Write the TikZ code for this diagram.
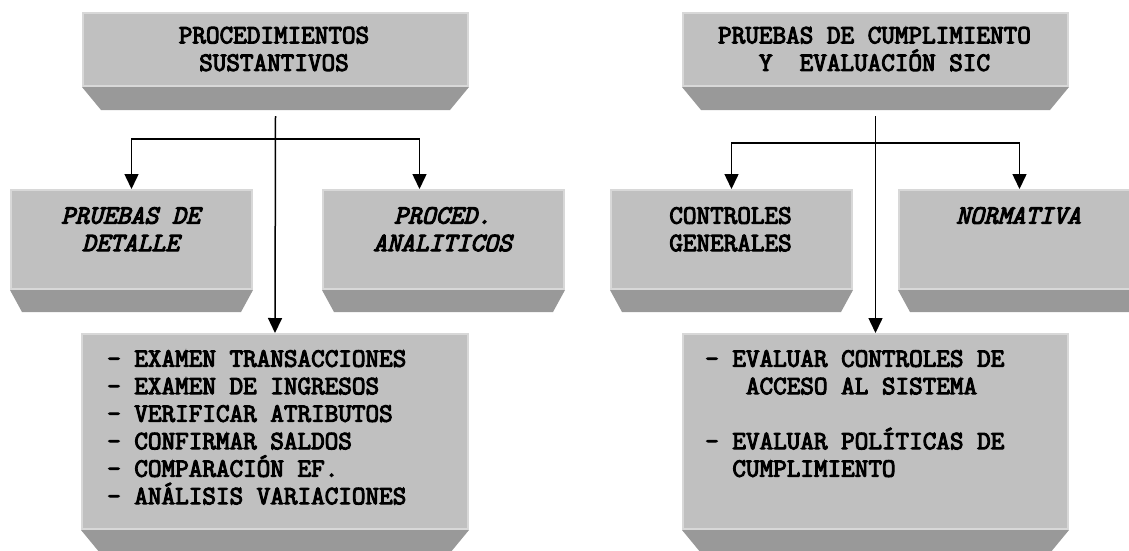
\documentclass[tikz,border=0pt]{standalone}
\usepackage{fontspec}
\newfontfamily\cour[FakeBold=4]{Latin Modern Mono}
\usetikzlibrary{arrows.meta}
\definecolor{facegray}{HTML}{C0C0C0}
\definecolor{edgegray}{HTML}{D8D8D8}
\definecolor{bevelgray}{HTML}{999999}
\newcommand\bevel[3]{\fill[bevelgray] (#1.south west) -- (#1.south east) -- ([xshift=-#2pt,yshift=-#3pt]#1.south east) -- ([xshift=#2pt,yshift=-#3pt]#1.south west) -- cycle;}
\begin{document}
\begin{tikzpicture}[x=1pt,y=-1pt,
  face/.style={fill=facegray, draw=edgegray, line width=2pt, inner sep=0pt, anchor=north west},
  txt/.style={font=\cour\fontsize{26.4}{27.5}\selectfont, inner sep=0pt, align=center, text=black},
  itxt/.style={txt, font=\cour\itshape\fontsize{26.4}{27.5}\selectfont},
  ltxt/.style={txt, align=left, anchor=north west},
  conn/.style={draw=black, line width=1.5pt},
  arr/.style={conn, -{Triangle[width=14pt,length=15pt]}}
]
\useasboundingbox (0,0) rectangle (1129,550);
\clip (0,0) rectangle (1129,550);
\fill[white] (0,0) rectangle (1129,550);

% boxes
\node[face, minimum width=385pt, minimum height=73pt] (top1) at (82,12) {};
\bevel{top1}{19}{23}
\node[face, minimum width=385pt, minimum height=73pt] (top2) at (682,12) {};
\bevel{top2}{19}{23}

\node[face, minimum width=241pt, minimum height=99pt] (det) at (10,189) {};
\bevel{det}{12}{22}
\node[face, minimum width=241pt, minimum height=99pt] (proc) at (322,189) {};
\bevel{proc}{12}{22}
\node[face, minimum width=241pt, minimum height=99pt] (ctrl) at (610,189) {};
\bevel{ctrl}{12}{22}
\node[face, minimum width=241pt, minimum height=99pt] (norm) at (898,189) {};
\bevel{norm}{12}{22}

\node[face, minimum width=386pt, minimum height=195pt] (list1) at (81,333) {};
\bevel{list1}{19}{23}
\node[face, minimum width=385pt, minimum height=195pt] (list2) at (682,333) {};
\bevel{list2}{19}{23}

% texts
\node[txt] (t1) at (274,49) {PROCEDIMIENTOS\\SUSTANTIVOS};
\node[txt] (t2) at (874.5,49) {PRUEBAS DE CUMPLIMIENTO\\Y\ \ EVALUACIÓN SIC};
\node[itxt, anchor=north] (tdet) at (130.5,207) {PRUEBAS DE\\DETALLE};
\node[itxt, anchor=north] (tproc) at (442.5,207) {PROCED.\\ANALITICOS};
\node[txt, anchor=north] (tctrl) at (730.5,207) {CONTROLES\\GENERALES};
\node[itxt, anchor=north] (tnorm) at (1018.5,207) {NORMATIVA};
\node[ltxt] (tl1) at (107,350) {- EXAMEN TRANSACCIONES\\- EXAMEN DE INGRESOS\\- VERIFICAR ATRIBUTOS\\- CONFIRMAR SALDOS\\- COMPARACIÓN EF.\\- ANÁLISIS VARIACIONES};
\node[ltxt] (tl2) at (705,350) {- EVALUAR CONTROLES DE\\\mbox{\ \ \ }ACCESO AL SISTEMA\\\mbox{}\\- EVALUAR POLÍTICAS DE\\\mbox{\ \ }CUMPLIMIENTO};

% connectors
\coordinate (s1) at ([yshift=-29pt]top1.south);
\coordinate (j1) at (274,139);
\coordinate (pa) at ([xshift=-24pt]proc.north);
\draw[arr] (s1) -- (list1.north);
\draw[arr] (j1) -| (det.north);
\draw[arr] (j1) -| (pa);

\coordinate (s2) at ([yshift=-29pt]top2.south);
\coordinate (j2) at (874.5,143);
\draw[arr] (s2) -- (list2.north);
\draw[arr] (j2) -| (ctrl.north);
\draw[arr] (j2) -| (norm.north);
\end{tikzpicture}
\end{document}
